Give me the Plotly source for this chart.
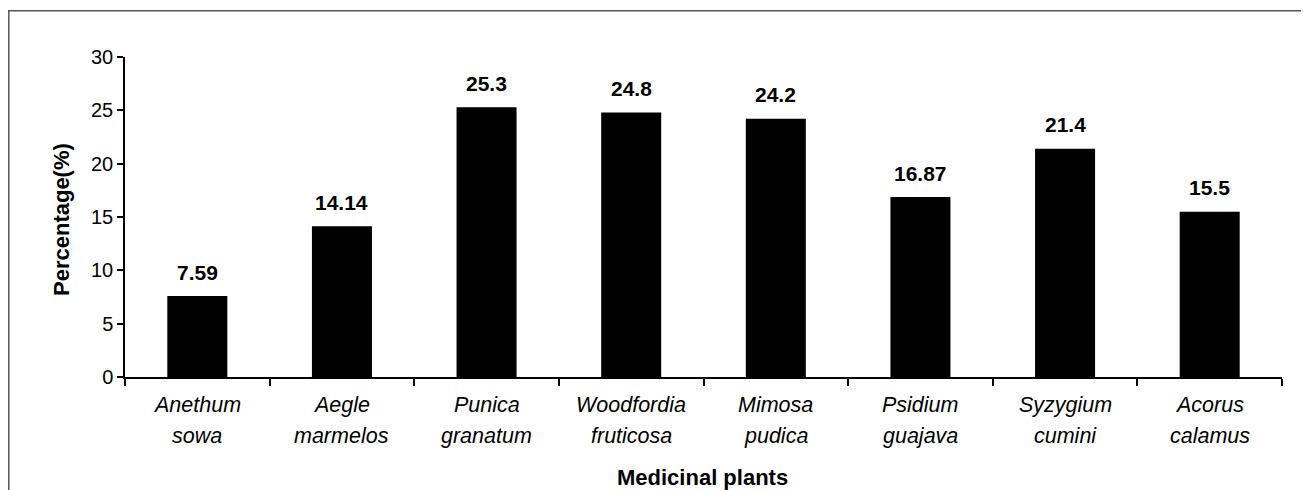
import plotly.graph_objects as go

cat_line1 = ["Anethum", "Aegle", "Punica", "Woodfordia", "Mimosa", "Psidium", "Syzygium", "Acorus"]
cat_line2 = ["sowa", "marmelos", "granatum", "fruticosa", "pudica", "guajava", "cumini", "calamus"]
values = [7.59, 14.14, 25.3, 24.8, 24.2, 16.87, 21.4, 15.5]
value_labels = ["7.59", "14.14", "25.3", "24.8", "24.2", "16.87", "21.4", "15.5"]
y_ticks = [0, 5, 10, 15, 20, 25, 30]

FONT = "Liberation Sans, Arial, sans-serif"
OFF = 8  # page body margin
W, H = 1309 - OFF, 490 - OFF
L, R, T, B = 125 - OFF, 27, 57 - OFF, 490 - 377
pw, ph = W - L - R, H - T - B

def px_x(sx):
    return (sx - OFF - L) / pw

def px_y(sy):
    return (H - B - (sy - OFF)) / ph

xcats = [f"{a} {b}" for a, b in zip(cat_line1, cat_line2)]

fig = go.Figure()
fig.add_trace(go.Bar(
    x=xcats, y=values,
    marker=dict(color="black", line=dict(width=0)),
    width=0.415,
))

for c, v, t in zip(xcats, values, value_labels):
    fig.add_annotation(x=c, y=v, text=f"<b>{t}</b>", showarrow=False,
                       yshift=24, yanchor="middle",
                       font=dict(family=FONT, size=21, color="black"))

for c, a, b in zip(xcats, cat_line1, cat_line2):
    fig.add_annotation(x=c, yref="paper", y=px_y(405), text=f"<i>{a}</i>", showarrow=False,
                       xanchor="center", yanchor="middle",
                       font=dict(family=FONT, size=21.5, color="black"))
    fig.add_annotation(x=c, yref="paper", y=px_y(436), text=f"<i>{b}</i>", showarrow=False,
                       xanchor="center", yanchor="middle",
                       font=dict(family=FONT, size=21.5, color="black"))

fig.add_annotation(xref="paper", yref="paper", x=px_x(702), y=px_y(477), text="<b>Medicinal plants</b>",
                   showarrow=False, xanchor="center", yanchor="middle",
                   font=dict(family=FONT, size=22, color="black"))
fig.add_annotation(xref="paper", yref="paper", x=px_x(61), y=px_y(220), text="<b>Percentage(%)</b>",
                   showarrow=False, textangle=-90, xanchor="center", yanchor="middle",
                   font=dict(family=FONT, size=22, color="black"))

# outer frame (left and top edges visible)
fig.add_shape(type="line", xref="paper", yref="paper", x0=px_x(8.8), x1=px_x(8.8), y0=px_y(10), y1=px_y(500),
              line=dict(color="#555555", width=1.5))
fig.add_shape(type="line", xref="paper", yref="paper", x0=px_x(8), x1=px_x(1320), y0=px_y(10.8), y1=px_y(10.8),
              line=dict(color="#555555", width=1.5))

fig.update_layout(
    width=W, height=H,
    margin=dict(l=L, r=R, t=T, b=B),
    plot_bgcolor="white", paper_bgcolor="white",
    showlegend=False,
    font=dict(family=FONT, size=20, color="black"),
    xaxis=dict(
        type="category", showline=True, linecolor="black", linewidth=1.5,
        ticks="outside", tickson="boundaries", ticklen=7, tickwidth=1.5, tickcolor="black",
        showticklabels=False,
        showgrid=False, zeroline=False,
    ),
    yaxis=dict(
        range=[0, 30], tickvals=y_ticks, showline=True, linecolor="black", linewidth=1.5,
        ticks="outside", ticklen=6, tickwidth=1.5, tickcolor="black",
        tickfont=dict(family=FONT, size=20, color="black"),
        showgrid=False, zeroline=False,
    ),
)

fig.write_html("out.html")
